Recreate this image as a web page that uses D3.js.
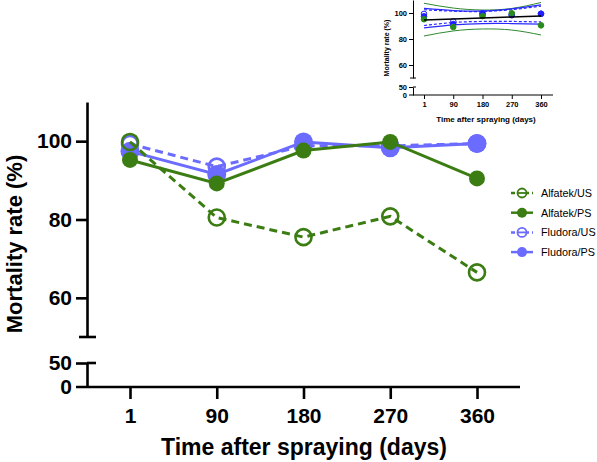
<!DOCTYPE html>
<html>
<head>
<meta charset="utf-8">
<script src="https://cdn.jsdelivr.net/npm/d3@7"></script>
<style>
  body { margin: 0; background: #fff; }
  svg { font-family: "Liberation Sans", Arial, sans-serif; }
</style>
</head>
<body>
<svg width="597" height="462"></svg>
<script>
// data
var days = ["1", "90", "180", "270", "360"];
var alfatekUS = [99.8, 80.5, 75.5, 80.8, 66.5];
var alfatekPS = [95.2, 89.2, 97.6, 99.8, 90.5];
var fludoraUS = [99.3, 93.5, 98.8, 98.8, 99.4];
var fludoraPS = [97.4, 91.5, 99.8, 98.3, 99.4];
var seriesNames = ["Alfatek/US", "Alfatek/PS", "Fludora/US", "Fludora/PS"];

// inset: regression line and confidence bands
var insetFit = [94.6, 95.4, 96.2, 96.9, 97.7];
var insetGreenHi = [107.5, 103.8, 102.3, 103.5, 108.1];
var insetGreenLo = [82.3, 86.2, 87.7, 86.9, 83.1];
var insetBlueHi = [103.5, 101.9, 101.5, 103.1, 106.2];
var insetBlueLo = [88.5, 90.8, 91.9, 91.9, 91.5];
var insetBlueDashHi = [102.5, 101.4, 101.2, 102.6, 105.3];
var insetBlueDashLo = [90.4, 92.7, 93.5, 93.5, 93.1];

var green = "#3b7d12";
var blue = "#6b6bff";

var svg = d3.select("svg");

// ---------- main chart ----------
var x = d3.scalePoint().domain(days).range([130, 477]);
var yUp = d3.scaleLinear().domain([50, 110]).range([337, 102]);
var yLow = d3.scaleLinear().domain([0, 50]).range([387, 363]);

function styleAxis(g, w, fs) {
    g.selectAll("path, line").attr("stroke", "#000").attr("stroke-width", w);
    g.selectAll("text").attr("font-family", "Liberation Sans, Arial, sans-serif")
        .attr("font-weight", "bold").attr("font-size", fs).attr("fill", "#000");
}

var yAxisUp = svg.append("g")
    .attr("transform", "translate(87,0)")
    .call(d3.axisLeft(yUp).tickValues([60, 80, 100]).tickSize(11).tickSizeOuter(0).tickPadding(4));
styleAxis(yAxisUp, 2.6, 21);

var yAxisLow = svg.append("g")
    .attr("transform", "translate(87,0)")
    .call(d3.axisLeft(yLow).tickValues([0, 50]).tickSize(11).tickSizeOuter(0).tickPadding(4));
styleAxis(yAxisLow, 2.6, 21);
yAxisLow.selectAll(".tick").filter(d => d === 0).select("line").remove();

// axis break caps
svg.append("line").attr("x1", 79).attr("x2", 96).attr("y1", yUp(50)).attr("y2", yUp(50))
    .attr("stroke", "#000").attr("stroke-width", 2.6);
svg.append("line").attr("x1", 87).attr("x2", 96).attr("y1", yLow(50)).attr("y2", yLow(50))
    .attr("stroke", "#000").attr("stroke-width", 2.6);

var xAxis = svg.append("g")
    .attr("transform", "translate(0,387)")
    .call(d3.axisBottom(x).tickSize(12).tickSizeOuter(0).tickPadding(9));
styleAxis(xAxis, 2.6, 21);
xAxis.select(".domain").attr("d", "M76,0H520");

svg.append("text")
    .attr("x", 304).attr("y", 455)
    .attr("text-anchor", "middle")
    .attr("font-weight", "bold").attr("font-size", 23)
    .text("Time after spraying (days)");

svg.append("text")
    .attr("transform", "translate(22,244) rotate(-90)")
    .attr("text-anchor", "middle")
    .attr("font-weight", "bold").attr("font-size", 22)
    .text("Mortality rate (%)");

var series = [
    { name: "Fludora/US", values: fludoraUS, color: blue, dash: "8,5", open: true, r: 8 },
    { name: "Fludora/PS", values: fludoraPS, color: blue, dash: null, open: false, r: 9.5 },
    { name: "Alfatek/US", values: alfatekUS, color: green, dash: "8,5", open: true, r: 8 },
    { name: "Alfatek/PS", values: alfatekPS, color: green, dash: null, open: false, r: 8 }
];

var line = d3.line().x((d, i) => x(days[i])).y(d => yUp(d));

series.forEach(function(s) {
    svg.append("path")
        .datum(s.values)
        .attr("d", line)
        .attr("fill", "none")
        .attr("stroke", s.color)
        .attr("stroke-width", 3)
        .attr("stroke-dasharray", s.dash);
    svg.selectAll(null)
        .data(s.values)
        .enter().append("circle")
        .attr("cx", (d, i) => x(days[i]))
        .attr("cy", d => yUp(d))
        .attr("r", s.r)
        .attr("fill", s.open ? "none" : s.color)
        .attr("stroke", s.open ? s.color : "none")
        .attr("stroke-width", 2.6);
});

// legend
var legendOrder = ["Alfatek/US", "Alfatek/PS", "Fludora/US", "Fludora/PS"];
legendOrder.forEach(function(name, i) {
    var s = series.find(d => d.name === name);
    var g = svg.append("g").attr("transform", "translate(0," + (193 + i * 19.7) + ")");
    g.append("line").attr("x1", 511).attr("x2", 533).attr("y1", 0).attr("y2", 0)
        .attr("stroke", s.color).attr("stroke-width", 2.5)
        .attr("stroke-dasharray", s.dash ? "4,3" : null);
    g.append("circle").attr("cx", 522).attr("cy", 0).attr("r", s.open ? 4.5 : 5)
        .attr("fill", s.open ? "#fff" : s.color)
        .attr("stroke", s.open ? s.color : "none").attr("stroke-width", 1.8);
    if (s.open) {
        g.append("line").attr("x1", 518).attr("x2", 526).attr("y1", 0).attr("y2", 0)
            .attr("stroke", s.color).attr("stroke-width", 1.8);
    }
    g.append("text").attr("x", 541).attr("y", 4)
        .attr("font-size", 10.8).attr("fill", "#000")
        .text(name);
});

// ---------- inset ----------
var ix = d3.scalePoint().domain(days).range([424, 541]);
var iyUp = d3.scaleLinear().domain([50, 110]).range([78, 0]);
var iyLow = d3.scaleLinear().domain([0, 50]).range([95, 87]);

var iyAxisUp = svg.append("g")
    .attr("transform", "translate(413,0)")
    .call(d3.axisLeft(iyUp).tickValues([60, 80, 100]).tickSize(4).tickSizeOuter(0).tickPadding(2));
styleAxis(iyAxisUp, 1, 7.5);
var iyAxisLow = svg.append("g")
    .attr("transform", "translate(413,0)")
    .call(d3.axisLeft(iyLow).tickValues([0, 50]).tickSize(4).tickSizeOuter(0).tickPadding(2));
styleAxis(iyAxisLow, 1, 7.5);
iyAxisLow.selectAll(".tick").filter(d => d === 0).select("line").remove();
svg.append("line").attr("x1", 410).attr("x2", 416).attr("y1", iyUp(50)).attr("y2", iyUp(50))
    .attr("stroke", "#000").attr("stroke-width", 1);
svg.append("line").attr("x1", 413).attr("x2", 416).attr("y1", iyLow(50)).attr("y2", iyLow(50))
    .attr("stroke", "#000").attr("stroke-width", 1);

var ixAxis = svg.append("g")
    .attr("transform", "translate(0,95)")
    .call(d3.axisBottom(ix).tickSize(4).tickSizeOuter(0).tickPadding(3));
styleAxis(ixAxis, 1, 7.5);
ixAxis.select(".domain").attr("d", "M409,0H553");

svg.append("text")
    .attr("x", 486).attr("y", 122)
    .attr("text-anchor", "middle")
    .attr("font-weight", "bold").attr("font-size", 8)
    .text("Time after spraying (days)");
svg.append("text")
    .attr("transform", "translate(389,48) rotate(-90)")
    .attr("text-anchor", "middle")
    .attr("font-weight", "bold").attr("font-size", 7)
    .text("Mortality rate (%)");

var iline = d3.line().x((d, i) => ix(days[i])).y(d => iyUp(d)).curve(d3.curveNatural);
var bands = [
    { values: insetGreenHi, color: "#2f8a2f", w: 1, dash: null },
    { values: insetGreenLo, color: "#2f8a2f", w: 1, dash: null },
    { values: insetBlueHi, color: "#2b2bff", w: 1.2, dash: null },
    { values: insetBlueLo, color: "#2b2bff", w: 1.2, dash: null },
    { values: insetBlueDashHi, color: "#2b2bff", w: 1.2, dash: "3,2" },
    { values: insetBlueDashLo, color: "#2b2bff", w: 1.2, dash: "3,2" }
];
bands.forEach(function(b) {
    svg.append("path").datum(b.values).attr("d", iline)
        .attr("fill", "none").attr("stroke", b.color)
        .attr("stroke-width", b.w).attr("stroke-dasharray", b.dash);
});

var insetPoints = [
    { values: fludoraUS, color: "#1f1fff", open: true },
    { values: fludoraPS, color: "#1f1fff", open: false },
    { values: alfatekPS, color: "#2a8a1e", open: false }
];
insetPoints.forEach(function(p) {
    svg.selectAll(null).data(p.values).enter().append("circle")
        .attr("cx", (d, i) => ix(days[i]))
        .attr("cy", d => iyUp(d))
        .attr("r", 2.8)
        .attr("fill", p.open ? "#fff" : p.color)
        .attr("stroke", p.color).attr("stroke-width", 1);
});

svg.append("path").datum(insetFit)
    .attr("d", d3.line().x((d, i) => ix(days[i])).y(d => iyUp(d)))
    .attr("fill", "none").attr("stroke", "#000").attr("stroke-width", 1.5);
</script>
</body>
</html>
